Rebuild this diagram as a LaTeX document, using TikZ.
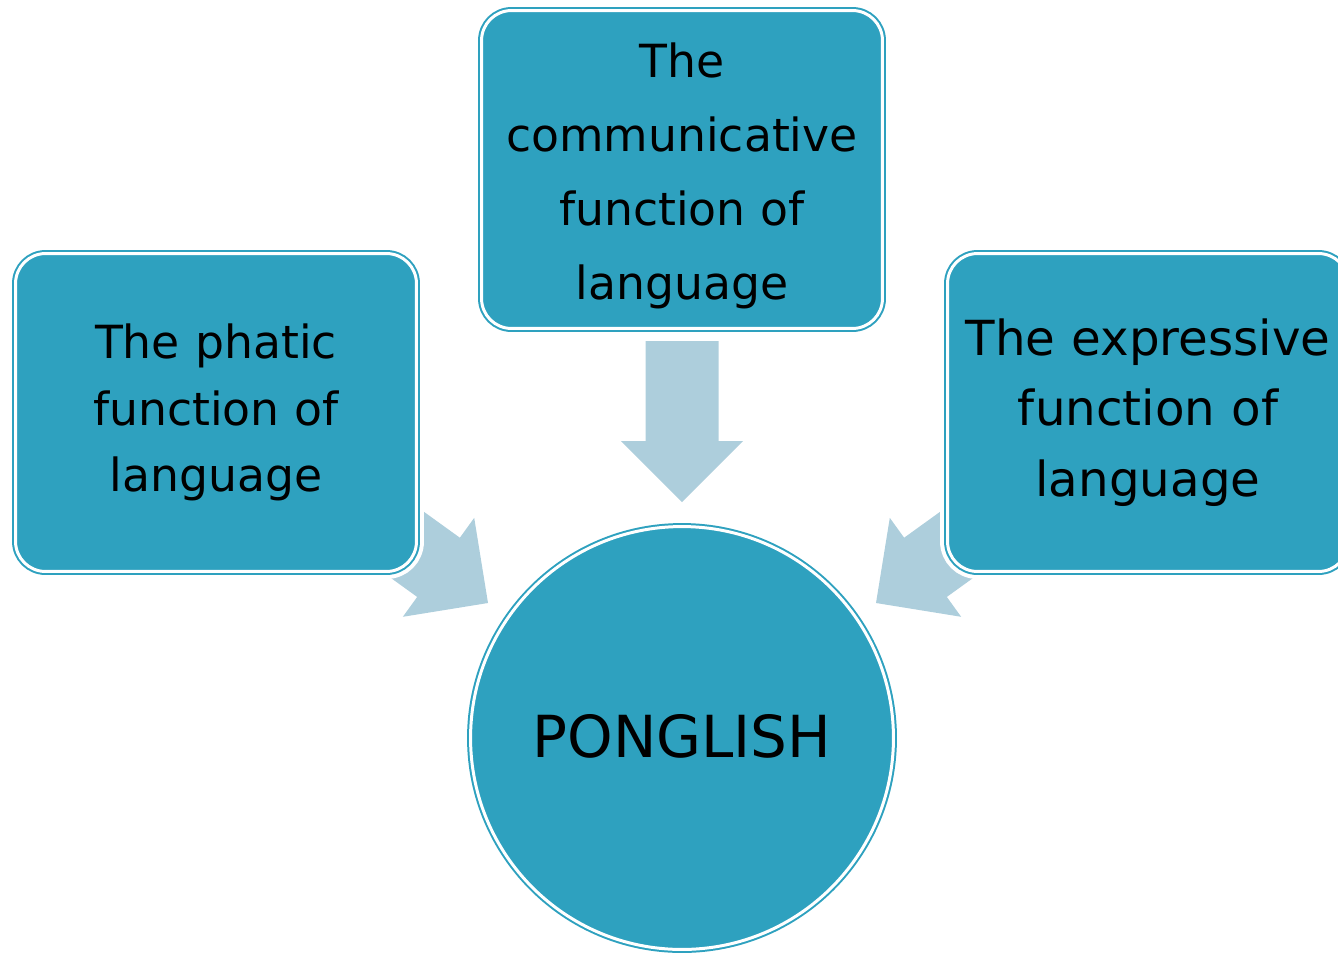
\documentclass[tikz,border=0pt]{standalone}
\usepackage{fontspec}
\setmainfont{DejaVu Sans}
\usepackage{tikz}
\usepackage{xcolor}
\usetikzlibrary{calc}
\definecolor{boxteal}{RGB}{46,161,191}
\definecolor{arrowblue}{RGB}{173,206,220}
\tikzset{
    func-box/.style = {rectangle, rounded corners=0.6cm, fill=boxteal, draw=boxteal, line width=0.04cm, double=white, double distance=0.06cm, preaction={draw=white, line width=0.3cm}, minimum width=8.02cm, minimum height=6.36cm, text width=7.6cm, align=center, font=\fontsize{26}{40}\selectfont},
    main-circle/.style = {circle, fill=boxteal, draw=boxteal, line width=0.04cm, double=white, double distance=0.06cm, minimum size=8.46cm, inner sep=0pt, font=\fontsize{33}{40}\selectfont},
    block-arrow/.style = {fill=arrowblue, draw=none},
}
% block arrow: #1 tip coordinate, #2 angle, #3 length
\newcommand{\blockarrow}[3]{
    \begin{scope}[shift={(#1)}, rotate=#2]
        \path[block-arrow] (0,0) -- (-61,-61) -- (-61,-36.5) -- (-#3,-36.5) -- (-#3,36.5) -- (-61,36.5) -- (-61,61) -- cycle;
    \end{scope}
}

\begin{document}
\begin{tikzpicture}[x=0.02cm, y=-0.02cm]
\useasboundingbox (0,0) rectangle (1338,954);
\node[main-circle] (ponglish) at (682,738) {\raisebox{0.1cm}{PONGLISH}};

% arrows towards the centre
\coordinate (tip-top) at ($(ponglish.center)+(0,-236)$);
\coordinate (tip-left) at ($(ponglish.center)+(-194,-135)$);
\coordinate (tip-right) at ($(ponglish.center)+(194,-135)$);
\blockarrow{tip-top}{-90}{161}
\blockarrow{tip-left}{-35.8}{175}
\blockarrow{tip-right}{-144.2}{175}

\node[func-box, font=\fontsize{26}{38}\selectfont] (phatic) at (216,412.5) {The phatic\\function of\\language};
\node[func-box, font=\fontsize{26}{42}\selectfont] (communicative) at (682,169.5) {\rule{0pt}{0.95cm}The\\communicative\\function of\\language};
\node[func-box, font=\fontsize{27.5}{40}\selectfont] (expressive) at (1148,412.5) {The expressive\\function of\\language};
\end{tikzpicture}
\end{document}
